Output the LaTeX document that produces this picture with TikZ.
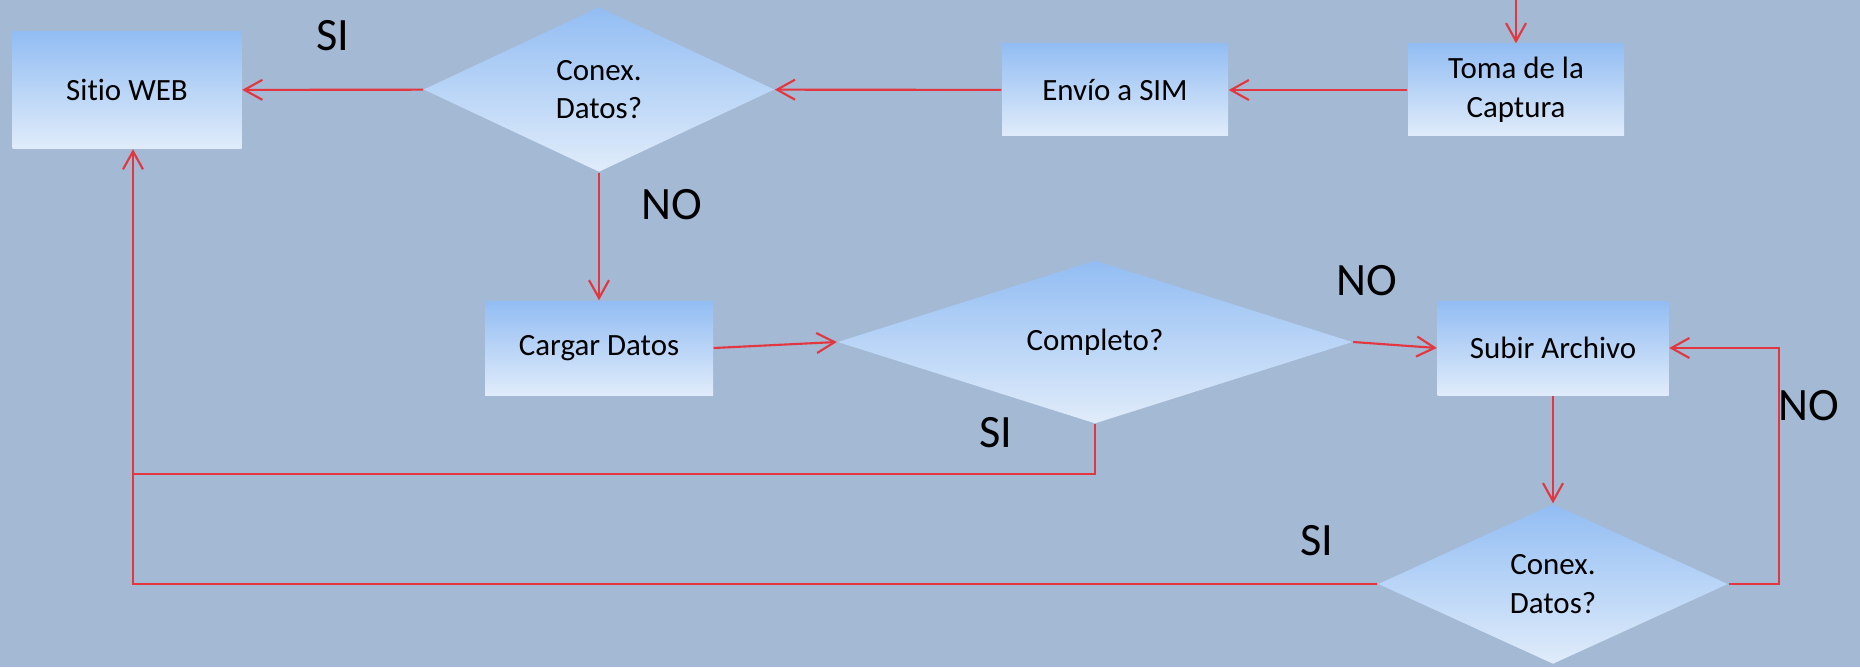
\documentclass[tikz,border=0pt]{standalone}
\usepackage{fontspec}
\setmainfont{Carlito}[Ligatures=NoCommon]
\usetikzlibrary{shapes.geometric,arrows.meta}

\definecolor{fondo}{RGB}{164,185,212}
\definecolor{cajaArriba}{RGB}{146,189,243}
\definecolor{cajaAbajo}{RGB}{224,236,250}
\definecolor{rojo}{RGB}{228,54,62}

\begin{document}
\begin{tikzpicture}[
	caja/.style={rectangle, top color=cajaArriba, bottom color=cajaAbajo, align=center, inner sep=0pt, font=\fontsize{8.8}{11}\selectfont},
	rombo/.style={diamond, top color=cajaArriba, bottom color=cajaAbajo, align=center, inner sep=0pt, font=\fontsize{8.8}{11}\selectfont},
	flecha/.style={draw=rojo, line width=0.6pt, -{Straight Barb[length=1.8mm,width=2mm]}},
	union/.style={draw=rojo, line width=0.6pt},
	etiqueta/.style={font=\fontsize{13.2}{15}\selectfont}
]
	
	% ---- Background ----
	\fill[fondo] (0,0) rectangle (18.6,-6.67);
	\useasboundingbox (0,0) rectangle (18.6,-6.67);
	
	% ---- Top row ----
	\node[caja, minimum width=2.29cm, minimum height=1.17cm] (web) at (1.27,-0.90) {Sitio WEB};
	\node[rombo, minimum width=3.51cm, minimum height=1.65cm] (conexA) at (5.99,-0.895) {Conex.\\Datos?};
	\node[caja, minimum width=2.26cm, minimum height=0.92cm] (envio) at (11.15,-0.90) {Envío a SIM};
	\node[caja, minimum width=2.16cm, minimum height=0.92cm] (toma) at (15.16,-0.90) {Toma de la\\Captura};
	
	% ---- Middle row ----
	\node[caja, minimum width=2.28cm, minimum height=0.94cm] (cargar) at (5.99,-3.48) {Cargar Datos};
	\node[rombo, minimum width=5.15cm, minimum height=1.62cm] (completo) at (10.95,-3.42) {Completo?};
	\node[caja, minimum width=2.31cm, minimum height=0.94cm] (subir) at (15.53,-3.48) {Subir Archivo};
	
	% ---- Bottom decision ----
	\node[rombo, minimum width=3.50cm, minimum height=1.60cm] (conexB) at (15.53,-5.84) {Conex.\\Datos?};
	
	% ---- Answers ----
	\node[etiqueta] (siA) at (3.33,-0.36) {SI};
	\node[etiqueta] (noA) at (6.72,-2.05) {NO};
	\node[etiqueta] (noB) at (13.67,-2.81) {NO};
	\node[etiqueta] (siB) at (9.96,-4.33) {SI};
	\node[etiqueta] (noC) at (18.09,-4.06) {NO};
	\node[etiqueta] (siC) at (13.17,-5.41) {SI};
	
	% ---- Connectors ----
	\coordinate (inicio) at (toma.north |- 0,0);
	\coordinate (entrada) at ([xshift=0.06cm]web.south);
	\coordinate (juntar) at (entrada |- 0,-4.74);
	\draw[flecha] (inicio) -- (toma.north);
	\draw[flecha] (toma) -- (envio);
	\draw[flecha] (envio) -- (conexA);
	\draw[flecha] (conexA) -- (web);
	\draw[flecha] (conexA) -- (cargar);
	\draw[flecha] (cargar.east) -- (completo.west);
	\draw[flecha] (completo.east) -- (subir.west);
	\draw[union] (completo.south) |- (juntar);
	\draw[flecha] (subir) -- (conexB);
	\draw[flecha] (conexB.east) -- ++(0.5,0) |- (subir.east);
	\draw[flecha] (conexB.west) -| (entrada);
	
\end{tikzpicture}
\end{document}
